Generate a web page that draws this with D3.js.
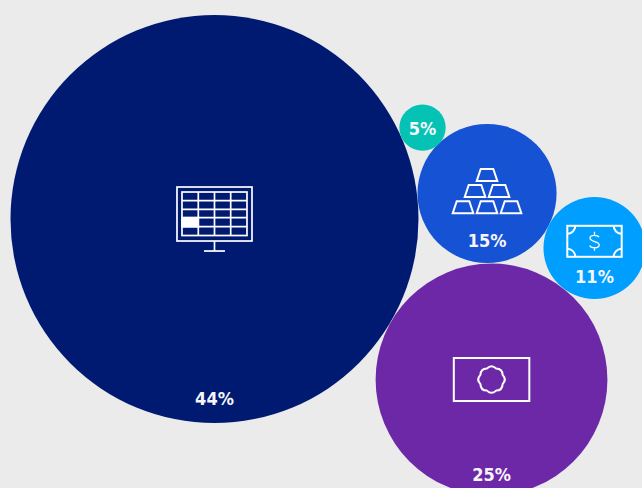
<!DOCTYPE html>
<html>
<head>
<meta charset="utf-8">
<script src="https://d3js.org/d3.v7.min.js"></script>
<style>
  html, body { margin: 0; padding: 0; background: #ebebeb; overflow: hidden; }
  svg { display: block; }
  .label { font-family: "DejaVu Sans Condensed", "DejaVu Sans", sans-serif; font-stretch: condensed; font-weight: 700; font-size: 18px; fill: #f6f6fa; text-anchor: middle; }
  .icon * { fill: none; stroke: #fff; stroke-width: 2; }
  .icon.screen * { stroke-width: 1.7; }
</style>
</head>
<body>
<svg id="chart" width="642" height="488"></svg>
<script>
// share of each bubble, bubble centre as % of the picture width / height
var shares = [44, 25, 15, 11, 5];
var centreX = [33.41, 76.56, 75.86, 92.6, 65.81];
var centreY = [44.88, 77.77, 39.65, 50.82, 26.14];
var labels = ["44%", "25%", "15%", "11%", "5%"];
var colours = ["#001a72", "#6d28a8", "#1652d4", "#009fff", "#05c3b4"];
var icons = ["screen", "certificate", "gold", "bill", null];

var width = 642, height = 488;
var x = d3.scaleLinear().domain([0, 100]).range([0, width]);
var y = d3.scaleLinear().domain([0, 100]).range([0, height]);
var r = d3.scaleLinear().domain([0, 44]).range([0, 204]);

var svg = d3.select("#chart");
var rows = d3.range(shares.length);

svg.selectAll("circle.bubble").data(rows).join("circle")
  .attr("class", "bubble")
  .attr("cx", function(i) { return x(centreX[i]); })
  .attr("cy", function(i) { return y(centreY[i]); })
  .attr("r", function(i) { return r(shares[i]); })
  .attr("fill", function(i) { return colours[i]; });

// label sits near the bottom of the bubble, except the small one
var labelGap = [18, 14.5, 16, 16];
svg.selectAll("text.label").data(rows).join("text")
  .attr("class", "label")
  .attr("x", function(i) { return x(centreX[i]); })
  .attr("y", function(i) {
    var dy = i < 4 ? r(shares[i]) - labelGap[i] : 7;
    return y(centreY[i]) + dy;
  })
  .text(function(i) { return labels[i]; });

// icons, drawn around the bubble centre
function drawScreen(g) {
  g.append("rect").attr("x", -37.5).attr("y", -32).attr("width", 75).attr("height", 54);
  g.append("rect").attr("x", -32.5).attr("y", -27).attr("width", 65).attr("height", 43.5);
  [-16.2, 0, 16.2].forEach(function(c) {
    g.append("line").attr("x1", c).attr("x2", c).attr("y1", -27).attr("y2", 16.5);
  });
  [-18.3, -9.7, -1.3, 7.7].forEach(function(c) {
    g.append("line").attr("x1", -32.5).attr("x2", 32.5).attr("y1", c).attr("y2", c);
  });
  g.append("rect").attr("x", -32.5).attr("y", -1.3).attr("width", 16.3).attr("height", 9)
    .style("fill", "#fff");
  g.append("line").attr("x1", 0).attr("x2", 0).attr("y1", 22).attr("y2", 32);
  g.append("line").attr("x1", -10.5).attr("x2", 10.5).attr("y1", 32).attr("y2", 32);
}

function drawCertificate(g) {
  g.append("rect").attr("x", -37.7).attr("y", -21.5).attr("width", 75.5).attr("height", 43);
  var n = 8, inner = 12, ctrl = 15.5, d = "";
  d3.range(n + 1).forEach(function(k) {
    var a = (k + 0.5) / n * 2 * Math.PI - Math.PI / 2;
    var m = a - Math.PI / n;
    var px = inner * Math.cos(a), py = inner * Math.sin(a);
    d += k === 0 ? "M" + px + "," + py
      : "Q" + ctrl * Math.cos(m) + "," + ctrl * Math.sin(m) + " " + px + "," + py;
  });
  g.append("path").attr("d", d + "Z").style("stroke-linejoin", "round");
}

function drawGold(g) {
  function bar(cx, top) {
    g.append("path").attr("d",
      "M" + (cx - 6.3) + "," + top + "H" + (cx + 6.3) + "L" + (cx + 10.3) + "," + (top + 12) +
      "H" + (cx - 10.3) + "Z");
  }
  bar(0, -24.5);
  bar(-12, -8.5); bar(12, -8.5);
  bar(-24, 7.8); bar(0, 7.8); bar(24, 7.8);
}

function drawBill(g) {
  var w = 27.2, h = 15.5, c = 8;
  g.attr("transform", g.attr("transform") + " translate(0,-6.7)");
  g.append("rect").attr("x", -w).attr("y", -h).attr("width", 2 * w).attr("height", 2 * h);
  g.append("path").attr("d",
    "M" + (-w) + "," + (-h + c) + "A" + c + "," + c + " 0 0 0 " + (-w + c) + "," + (-h) +
    "M" + (w - c) + "," + (-h) + "A" + c + "," + c + " 0 0 0 " + w + "," + (-h + c) +
    "M" + w + "," + (h - c) + "A" + c + "," + c + " 0 0 0 " + (w - c) + "," + h +
    "M" + (-w + c) + "," + h + "A" + c + "," + c + " 0 0 0 " + (-w) + "," + (h - c));
  g.append("path").style("stroke-width", 1.3).attr("d",
    "M4.5,-4C3.5,-6.5 -4.5,-7 -4.5,-3.2C-4.5,1 4.8,-0.5 4.8,3.8C4.8,7.5 -3.8,7 -4.8,4.2M0,-9.5V-6.3M0,6.3V9.5");
}

var drawers = { screen: drawScreen, certificate: drawCertificate, gold: drawGold, bill: drawBill };
rows.forEach(function(i) {
  if (!icons[i]) return;
  var g = svg.append("g").attr("class", "icon " + icons[i])
    .attr("transform", "translate(" + x(centreX[i]) + "," + y(centreY[i]) + ")");
  drawers[icons[i]](g);
});
</script>
</body>
</html>
